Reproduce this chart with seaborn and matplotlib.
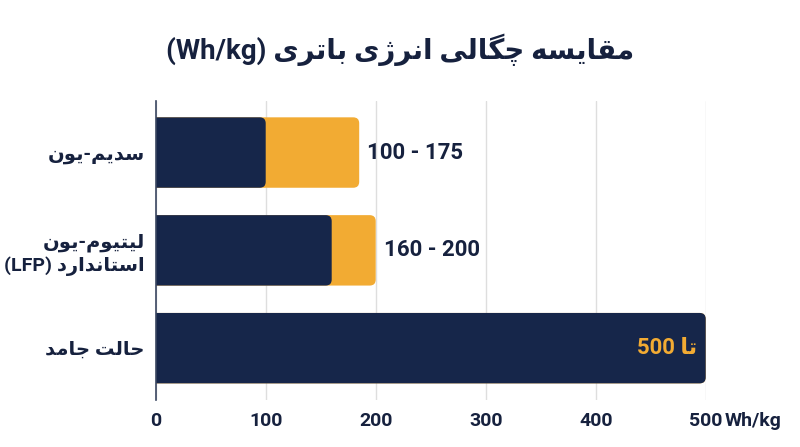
import matplotlib
matplotlib.use("Agg")
import matplotlib.pyplot as plt
import seaborn as sns
import pandas as pd
from matplotlib.patches import FancyBboxPatch

# ---------------- data ----------------
categories = ["سدیم-یون", "لیتیوم-یون\nاستاندارد (LFP)", "حالت جامد"]
low_values = [100, 160, 500]
high_values = [185, 200, 500]
range_labels = ["100 - 175", "160 - 200", "تا 500"]
x_ticks = [0, 100, 200, 300, 400, 500]
x_tick_labels = ["0", "100", "200", "300", "400", "500"]
x_unit = "Wh/kg"
title = "مقایسه چگالی انرژی باتری (Wh/kg)"

NAVY = "#16264a"
ORANGE = "#f2ab33"
TEXT = "#16213e"
GRID = "#dedede"

# ---------------- minimal Persian shaping + bidi ----------------
FORMS = {
    "ا": ("\uFE8D", "\uFE8E", None, None),
    "ب": ("\uFE8F", "\uFE90", "\uFE91", "\uFE92"),
    "ت": ("\uFE95", "\uFE96", "\uFE97", "\uFE98"),
    "ج": ("\uFE9D", "\uFE9E", "\uFE9F", "\uFEA0"),
    "ح": ("\uFEA1", "\uFEA2", "\uFEA3", "\uFEA4"),
    "د": ("\uFEA9", "\uFEAA", None, None),
    "ر": ("\uFEAD", "\uFEAE", None, None),
    "ز": ("\uFEAF", "\uFEB0", None, None),
    "س": ("\uFEB1", "\uFEB2", "\uFEB3", "\uFEB4"),
    "ق": ("\uFED5", "\uFED6", "\uFED7", "\uFED8"),
    "ل": ("\uFEDD", "\uFEDE", "\uFEDF", "\uFEE0"),
    "م": ("\uFEE1", "\uFEE2", "\uFEE3", "\uFEE4"),
    "ن": ("\uFEE5", "\uFEE6", "\uFEE7", "\uFEE8"),
    "ه": ("\uFEE9", "\uFEEA", "\uFEEB", "\uFEEC"),
    "و": ("\uFEED", "\uFEEE", None, None),
    "ی": ("\uFBFC", "\uFBFD", "\uFBFE", "\uFBFF"),
    "چ": ("\uFB7A", "\uFB7B", "\uFB7C", "\uFB7D"),
    "گ": ("\uFB92", "\uFB93", "\uFB94", "\uFB95"),
    "ژ": ("\uFB8A", "\uFB8B", None, None),
}


def shape(s):
    out = []
    for i, c in enumerate(s):
        if c not in FORMS:
            out.append(c)
            continue
        prev = s[i - 1] if i > 0 else None
        nxt = s[i + 1] if i + 1 < len(s) else None
        jp = prev in FORMS and FORMS[prev][2] is not None
        jn = nxt in FORMS and FORMS[c][2] is not None
        iso, fin, ini, med = FORMS[c]
        out.append(med if (jp and jn) else fin if jp else ini if jn else iso)
    return "".join(out)


def is_rtl(c):
    o = ord(c)
    return 0x0600 <= o <= 0x06FF or 0xFB50 <= o <= 0xFDFF or 0xFE70 <= o <= 0xFEFF


def is_ltr(c):
    return c.isascii() and (c.isalnum() or c == "/")


MIRROR = {"(": ")", ")": "("}


def visual_line(s):
    s = shape(s)
    cls = ["R" if is_rtl(c) else "L" if is_ltr(c) else "N" for c in s]
    n = len(s)
    res = cls[:]
    for i in range(n):
        if cls[i] == "N":
            j = i - 1
            while j >= 0 and cls[j] == "N":
                j -= 1
            k = i + 1
            while k < n and cls[k] == "N":
                k += 1
            left = cls[j] if j >= 0 else "R"
            right = cls[k] if k < n else "R"
            res[i] = left if left == right else "R"
    runs = []
    for c, d in zip(s, res):
        if runs and runs[-1][0] == d:
            runs[-1][1].append(c)
        else:
            runs.append([d, [c]])
    out = []
    for d, chars in reversed(runs):
        if d == "R":
            out.append("".join(MIRROR.get(c, c) for c in reversed(chars)))
        else:
            out.append("".join(chars))
    return "".join(out)


def visual(s):
    return "\n".join(visual_line(line) for line in s.split("\n"))


FAM = ["Roboto", "DejaVu Sans"]

# ---------------- figure ----------------
sns.set_theme(style="white")
plt.rcParams["font.family"] = FAM
plt.rcParams["font.weight"] = "bold"

fig = plt.figure(figsize=(8.0, 4.47), dpi=100)
ax = fig.add_axes([155.7 / 800, 1 - 400 / 447, (705.7 - 155.7) / 800, (400 - 100.7) / 447])

df = pd.DataFrame({
    "category": [visual(c) for c in categories],
    "low": low_values,
    "high": high_values,
})

sns.barplot(data=df, y="category", x="high", color=ORANGE, width=0.72,
            orient="h", ax=ax, saturation=1, zorder=2)
sns.barplot(data=df, y="category", x="low", color=NAVY, width=0.72,
            orient="h", ax=ax, saturation=1, zorder=3)

ax.set_xlim(0, 500)
ax.set_ylim(2.53, -0.53)

# replace rectangles by rounded boxes
px_per_x = (705.7 - 155.7) / 500.0
px_per_y = 300.0 / 3.06
radius_px = 6.0
r_x = radius_px / px_per_x
aspect = px_per_x / px_per_y
for p in list(ax.patches):
    x0, y0 = p.get_x(), p.get_y()
    w, h = p.get_width(), p.get_height()
    fc = p.get_facecolor()
    z = p.get_zorder()
    p.remove()
    fb = FancyBboxPatch((x0 - r_x, y0), w + r_x, h,
                        boxstyle=f"round,pad=0,rounding_size={r_x}",
                        mutation_aspect=aspect, facecolor=fc, edgecolor="none",
                        zorder=z, clip_on=True)
    ax.add_patch(fb)

# value labels
for i, (lab, hv) in enumerate(zip(range_labels, high_values)):
    if hv >= 480:
        ax.text(hv - 9 / px_per_x, i, visual(lab), ha="right", va="center",
                color=ORANGE, fontsize=16, fontweight="bold", family=FAM, zorder=5)
    else:
        ax.text(hv + 8 / px_per_x, i, visual(lab), ha="left", va="center",
                color=TEXT, fontsize=16, fontweight="bold", family=FAM, zorder=5)

# axes styling
ax.set_xticks(x_ticks)
ax.set_xticklabels(x_tick_labels)
ax.xaxis.grid(True, color=GRID, linewidth=1, zorder=0)
ax.yaxis.grid(False)
ax.set_axisbelow(True)
ax.tick_params(axis="x", length=0, pad=9, labelsize=14, colors=TEXT)
ax.tick_params(axis="y", length=0, pad=8, labelsize=14, colors=TEXT)
for lbl in ax.get_xticklabels() + ax.get_yticklabels():
    lbl.set_fontweight("bold")
    lbl.set_family(FAM)
for lbl in ax.get_yticklabels():
    lbl.set_multialignment("right")
    lbl.set_linespacing(1.25)
ax.set_xlabel("")
ax.set_ylabel("")
for s in ["top", "right", "bottom"]:
    ax.spines[s].set_visible(False)
ax.spines["left"].set_color("#3a4660")
ax.spines["left"].set_linewidth(1.2)
ax.spines["left"].set_zorder(6)

# unit after the last tick label
ax.annotate(x_unit, xy=(500, 0), xycoords=("data", "axes fraction"),
            xytext=(14, -9), textcoords="offset points", ha="left", va="top",
            fontsize=14, fontweight="bold", color=TEXT, family=FAM)

fig.text(0.5, 1 - 50 / 447, visual(title), ha="center", va="center",
         fontsize=20, fontweight="bold", color=TEXT, family=FAM)

fig.savefig("out.png", dpi=100, facecolor="white")
